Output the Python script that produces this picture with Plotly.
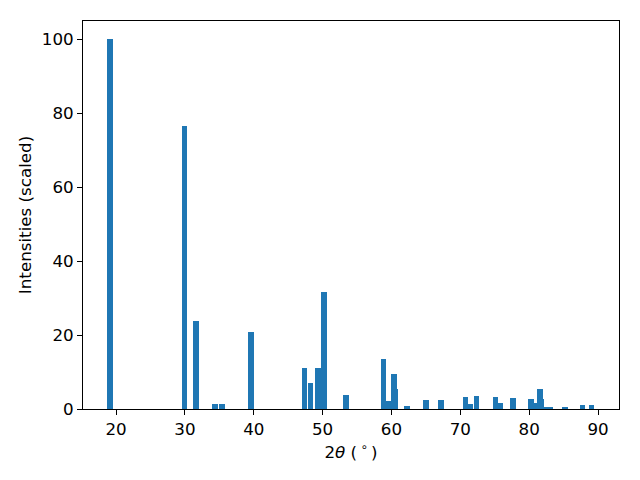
import plotly.graph_objects as go

two_theta = [19.13, 29.92, 31.6, 34.4, 35.4, 39.6, 47.37, 48.25, 49.33, 50.2,
             53.4, 58.85, 59.65, 60.37, 60.55, 62.26, 65.0, 67.2, 70.76, 71.5,
             72.35, 75.1, 75.75, 77.65, 80.27, 80.9, 81.57, 81.76, 82.35, 83.0,
             85.2, 87.75, 89.05]
intensity = [100.0, 76.5, 23.9, 1.36, 1.36, 20.9, 11.1, 7.07, 11.1, 31.6,
             3.8, 13.6, 2.2, 9.5, 5.4, 0.8, 2.45, 2.45, 3.26, 1.36,
             3.5, 3.26, 1.6, 3.0, 2.7, 1.6, 5.4, 2.7, 0.3, 0.3,
             0.3, 1.1, 1.1]

x_ticks = [20, 30, 40, 50, 60, 70, 80, 90]
y_ticks = [0, 20, 40, 60, 80, 100]

fig = go.Figure(go.Bar(x=two_theta, y=intensity, width=0.8,
                       marker=dict(color="#1f77b4", line=dict(width=0))))

axis_common = dict(showline=True, linecolor="black", linewidth=1, mirror=True,
                   ticks="outside", ticklen=5, tickwidth=1, tickcolor="black",
                   showgrid=False, zeroline=False,
                   tickfont=dict(family="DejaVu Sans", size=16.7, color="black"))

fig.update_layout(
    width=640, height=480,
    margin=dict(l=83, r=21, t=21, b=71),
    paper_bgcolor="white", plot_bgcolor="white",
    showlegend=False, bargap=0,
    font=dict(family="DejaVu Sans", size=16.7, color="black"),
    xaxis=dict(range=[15.2, 93.05], tickvals=x_ticks,
               title=dict(text="2<i>θ</i> (\u2009<sup>∘</sup>\u2009)", standoff=8,
                          font=dict(family="DejaVu Sans", size=16.7)),
               **axis_common),
    yaxis=dict(range=[0, 105], tickvals=y_ticks,
               title=dict(text="Intensities (scaled)", standoff=5,
                          font=dict(family="DejaVu Sans", size=16.7)),
               **axis_common),
)

fig.write_html("out.html", config={"displayModeBar": False},
               post_script="document.body.style.margin='0';document.body.style.overflow='hidden';")
